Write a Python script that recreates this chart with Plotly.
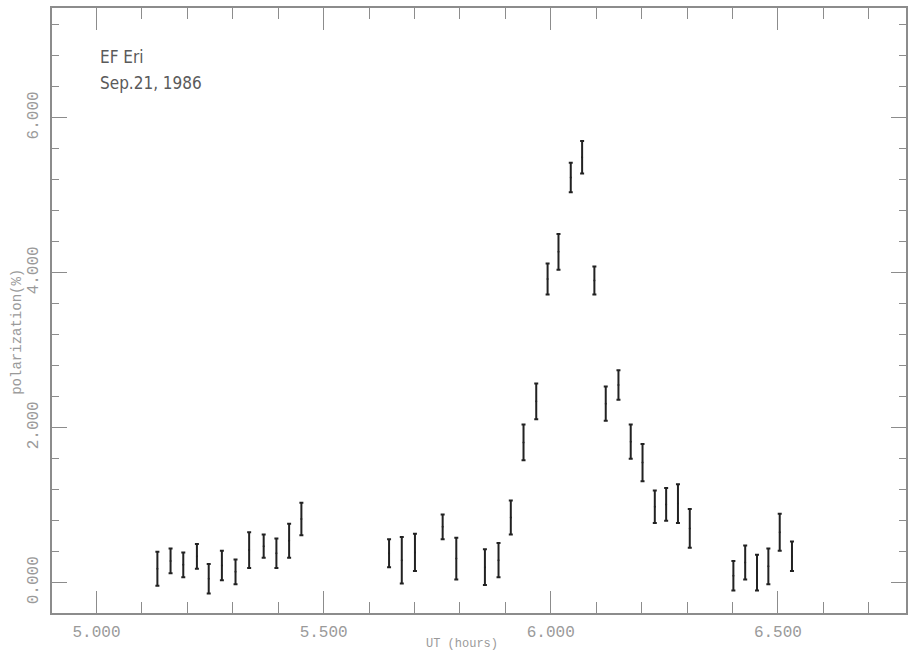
import plotly.graph_objects as go

# UT (hours)
ut_hours = [5.134, 5.163, 5.191, 5.221, 5.247, 5.276, 5.306, 5.336, 5.368, 5.396,
            5.424, 5.451, 5.644, 5.672, 5.701, 5.762, 5.792, 5.855, 5.885, 5.912,
            5.940, 5.968, 5.993, 6.017, 6.044, 6.069, 6.096, 6.121, 6.149, 6.176,
            6.202, 6.229, 6.254, 6.280, 6.306, 6.402, 6.428, 6.454, 6.479, 6.504,
            6.531]
# polarization (%)
polarization = [0.18, 0.28, 0.23, 0.34, 0.05, 0.22, 0.14, 0.42, 0.47, 0.38,
                0.54, 0.82, 0.38, 0.29, 0.39, 0.72, 0.31, 0.20, 0.29, 0.84,
                1.81, 2.34, 3.92, 4.27, 5.23, 5.49, 3.90, 2.31, 2.55, 1.82,
                1.55, 0.98, 1.01, 1.02, 0.70, 0.09, 0.26, 0.13, 0.21, 0.65,
                0.34]
# error (%)
pol_error = [0.22, 0.16, 0.16, 0.16, 0.19, 0.19, 0.16, 0.23, 0.15, 0.19,
             0.22, 0.21, 0.18, 0.30, 0.24, 0.16, 0.27, 0.23, 0.22, 0.22,
             0.23, 0.23, 0.20, 0.23, 0.19, 0.21, 0.18, 0.22, 0.19, 0.22,
             0.24, 0.21, 0.21, 0.25, 0.25, 0.19, 0.22, 0.23, 0.23, 0.24,
             0.19]

x_ticks = [5.0, 5.5, 6.0, 6.5]
x_tick_labels = ["5.000", "5.500", "6.000", "6.500"]
y_ticks = [0, 2, 4, 6]
y_tick_labels = ["0.000", "2.000", "4.000", "6.000"]

AXIS_GRAY = "#8c8c8c"
LABEL_GRAY = "#9a9a9a"
MONO = "Liberation Mono, DejaVu Sans Mono, monospace"
NARROW = "Liberation Sans Narrow, DejaVu Sans Condensed, Roboto"

fig = go.Figure()
fig.add_trace(go.Scatter(
    x=ut_hours, y=polarization, mode="markers",
    marker=dict(size=2, color="#222222"),
    error_y=dict(type="data", array=pol_error, visible=True,
                 color="#222222", thickness=2, width=2),
    showlegend=False, hoverinfo="skip"))

fig.update_layout(
    width=909, height=653,
    margin=dict(l=52, r=3, t=8, b=40, autoexpand=False),
    paper_bgcolor="white", plot_bgcolor="white",
    showlegend=False,
    xaxis=dict(
        range=[4.902, 6.782], tickvals=x_ticks, ticktext=x_tick_labels,
        ticks="inside", ticklen=22, tickwidth=1, tickcolor=AXIS_GRAY,
        minor=dict(dtick=0.1, tick0=5.0, ticks="inside", ticklen=11,
                   tickwidth=1, tickcolor=AXIS_GRAY, showgrid=False),
        showline=True, linecolor=AXIS_GRAY, linewidth=1.5, mirror="ticks",
        showgrid=False, zeroline=False, automargin=False,
        tickfont=dict(family=MONO, size=16, color=LABEL_GRAY),
        ticklabelstandoff=3,
    ),
    yaxis=dict(
        range=[-0.392, 7.417], tickvals=y_ticks, ticktext=y_tick_labels,
        ticks="inside", ticklen=15, tickwidth=1, tickcolor=AXIS_GRAY,
        minor=dict(dtick=0.4, tick0=0, ticks="inside", ticklen=7,
                   tickwidth=1, tickcolor=AXIS_GRAY, showgrid=False),
        showline=True, linecolor=AXIS_GRAY, linewidth=1.5, mirror="ticks",
        showgrid=False, zeroline=False, tickangle=-90, automargin=False,
        tickfont=dict(family=MONO, size=16, color=LABEL_GRAY),
        ticklabelstandoff=6,
    ),
    annotations=[
        dict(text="UT (hours)", xref="paper", yref="paper", x=0.480, y=-0.051,
             xanchor="center", yanchor="middle", showarrow=False,
             font=dict(family=MONO, size=12, color=LABEL_GRAY)),
        dict(text="polarization(%)", xref="paper", yref="paper", x=0, y=0.464,
             xshift=-34.5, xanchor="center", yanchor="middle", textangle=-90,
             showarrow=False, font=dict(family=MONO, size=14, color=LABEL_GRAY)),
        dict(text="EF Eri", xref="paper", yref="paper", x=0.0539, y=0.919,
             xanchor="left", yanchor="middle", showarrow=False,
             font=dict(family=NARROW, size=17, color="#5a5a5a")),
        dict(text="Sep.21, 1986", xref="paper", yref="paper", x=0.0539, y=0.876,
             xanchor="left", yanchor="middle", showarrow=False,
             font=dict(family=NARROW, size=17, color="#5a5a5a")),
    ],
)

fig.write_html("out.html",
               config={"displayModeBar": False},
               post_script="document.body.style.margin='0';"
                           "document.body.style.overflow='hidden';")
